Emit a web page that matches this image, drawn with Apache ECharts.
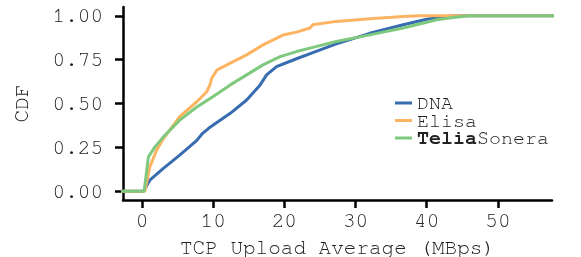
<!DOCTYPE html>
<html>
<head>
<meta charset="utf-8">
<script src="https://cdn.jsdelivr.net/npm/echarts@6/dist/echarts.min.js"></script>
<style>
  html, body { margin: 0; padding: 0; background: #fff; }
  #chart { width: 581px; height: 257px; }
</style>
</head>
<body>
<div id="chart"></div>
<script>
// upload speed (MBps) vs CDF
const seriesNames = ['DNA', 'Elisa', 'TeliaSonera']
const dnaX = [-3, 0.2, 1.1, 3.0, 5.3, 7.7, 8.4, 9.4, 12.4, 14.7, 16.6, 17.5, 18.9, 21.7, 24, 27.3, 32, 36.7, 40, 43.7, 58]
const dnaY = [0, 0, 0.063, 0.13, 0.206, 0.29, 0.325, 0.36, 0.444, 0.52, 0.606, 0.663, 0.71, 0.755, 0.79, 0.84, 0.9, 0.949, 0.98, 1.0, 1.0]
const elisaX = [-3, 0.4, 1.1, 2.06, 3.0, 5.3, 7.7, 9.1, 9.55, 9.8, 10.5, 12.4, 14.7, 17, 19.8, 21.7, 23.6, 24.0, 27.3, 32, 36.7, 39, 58]
const elisaY = [0, 0, 0.139, 0.234, 0.30, 0.425, 0.51, 0.567, 0.606, 0.644, 0.69, 0.73, 0.777, 0.834, 0.89, 0.907, 0.93, 0.949, 0.968, 0.983, 0.996, 1.0, 1.0]
const teliaX = [-3, 0.3, 0.9, 1.83, 3.0, 5.3, 7.7, 10, 12.4, 14.7, 17, 19.4, 21.7, 24, 27.3, 32, 36.7, 41.4, 43.7, 46, 58]
const teliaY = [0, 0, 0.196, 0.253, 0.31, 0.405, 0.48, 0.54, 0.606, 0.663, 0.72, 0.767, 0.796, 0.82, 0.853, 0.891, 0.93, 0.977, 0.99, 1.0, 1.0]
const xTicks = [0, 10, 20, 30, 40, 50]
const yTicks = [0, 0.25, 0.5, 0.75, 1]
const colors = ['#386cb0', '#fdb462', '#7fc97f']

const font = "'Nimbus Mono PS', 'Nimbus Mono L', FreeMono, 'Courier New', Courier, 'Liberation Mono', monospace"
const pair = (xs, ys) => xs.map((x, i) => [x, ys[i]])

let chart = echarts.init(document.getElementById('chart'))
chart.setOption({
  animation: false,
  color: colors,
  textStyle: { fontFamily: font, color: '#222' },
  grid: { left: 123, right: 29, top: 7, bottom: 57, outerBoundsMode: 'none', containLabel: false },
  legend: {
    orient: 'vertical',
    left: 390,
    top: 88,
    icon: 'rect',
    itemWidth: 17,
    itemHeight: 3,
    itemGap: -2.5,
    data: seriesNames,
    formatter: name => name === 'TeliaSonera' ? '{b|Telia}{n|Sonera}' : '{n|' + name + '}',
    textStyle: {
      fontFamily: font,
      fontSize: 20,
      lineHeight: 18,
      rich: {
        n: { fontFamily: font, fontSize: 20, lineHeight: 18, color: '#222' },
        b: { fontFamily: font, fontSize: 20, lineHeight: 18, fontWeight: 'bold', color: '#222' }
      }
    }
  },
  xAxis: {
    type: 'value',
    min: -2.67,
    max: 57.6,
    name: 'TCP Upload Average (MBps)',
    nameLocation: 'middle',
    nameGap: 37,
    nameTextStyle: { fontFamily: font, fontSize: 21, color: '#222' },
    splitLine: { show: false },
    axisLine: { onZero: false, lineStyle: { color: '#000', width: 2.5 } },
    axisTick: { customValues: xTicks, length: 8, lineStyle: { color: '#000', width: 2.5 } },
    axisLabel: { customValues: xTicks, fontFamily: font, fontSize: 21, color: '#222', margin: 10 }
  },
  yAxis: {
    type: 'value',
    min: -0.05,
    max: 1.05,
    name: 'CDF',
    nameLocation: 'middle',
    nameGap: 91,
    nameTextStyle: { fontFamily: font, fontSize: 21, color: '#222' },
    splitLine: { show: false },
    axisLine: { onZero: false, lineStyle: { color: '#000', width: 2.5 } },
    axisTick: { customValues: yTicks, length: 8, lineStyle: { color: '#000', width: 2.5 } },
    axisLabel: { customValues: yTicks, fontFamily: font, fontSize: 21, color: '#222', margin: 20, formatter: v => v.toFixed(2) }
  },
  series: [
    { name: 'DNA', type: 'line', data: pair(dnaX, dnaY) },
    { name: 'Elisa', type: 'line', data: pair(elisaX, elisaY) },
    { name: 'TeliaSonera', type: 'line', data: pair(teliaX, teliaY) }
  ].map(s => Object.assign(s, { showSymbol: false, symbol: 'none', lineStyle: { width: 3 } }))
})
</script>
</body>
</html>
